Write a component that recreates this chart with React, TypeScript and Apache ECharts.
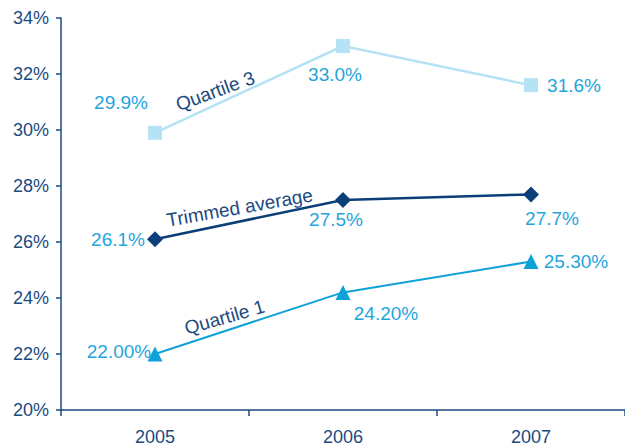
import React, { useEffect, useRef } from "react";
import * as echarts from "echarts";

const categories = ["2005", "2006", "2007"];
const quartile3 = [29.9, 33.0, 31.6];
const trimmedAverage = [26.1, 27.5, 27.7];
const quartile1 = [22.0, 24.2, 25.3];
const yTicks = { min: 20, max: 34, interval: 2 };

const AXIS = "#1b4a7f";
const LABEL = "#1fa5dc";
const C_Q3 = "#b5e2f4";
const C_TA = "#0b3f78";
const C_Q1 = "#10a1d8";
const FONT = "Liberation Sans, Arial, sans-serif";

const labelOffsets: Record<string, number[][]> = {
  q3: [[-34, -30], [-8, 28], [43, 0]],
  ta: [[-37, 0], [-7, 19], [21, 24]],
  q1: [[-36, -3], [43, 21], [45, 0]],
};

function mkData(vals: number[], key: string, digits: number) {
  return vals.map((v, i) => ({
    value: v,
    label: {
      show: true,
      position: "inside",
      offset: labelOffsets[key][i],
      formatter: () => v.toFixed(digits) + "%",
      color: LABEL,
      fontSize: 19,
      fontFamily: FONT,
      align: "center",
      verticalAlign: "middle",
    },
  }));
}

export default function App() {
  const ref = useRef<HTMLDivElement>(null);
  useEffect(() => {
    if (!ref.current) return;
    const chart = echarts.init(ref.current, undefined, { renderer: "svg" });
    chart.setOption({
      animation: false,
      grid: { left: 61, right: -2, top: 18, bottom: 37 },
      xAxis: {
        type: "category",
        data: categories,
        boundaryGap: true,
        axisLine: { lineStyle: { color: AXIS, width: 1.5 } },
        axisTick: { show: true, length: 6, lineStyle: { color: AXIS, width: 1.5 } },
        axisLabel: { color: AXIS, fontSize: 18, fontFamily: FONT, margin: 18 },
        splitLine: { show: false },
      },
      yAxis: {
        type: "value",
        min: yTicks.min,
        max: yTicks.max,
        interval: yTicks.interval,
        axisLine: { show: true, lineStyle: { color: AXIS, width: 1.5 } },
        axisTick: { show: true, length: 5, lineStyle: { color: AXIS, width: 1.5 } },
        axisLabel: { color: AXIS, fontSize: 18, fontFamily: FONT, margin: 12, formatter: "{value}%" },
        splitLine: { show: false },
      },
      series: [
        {
          name: "Quartile 3",
          type: "line",
          data: mkData(quartile3, "q3", 1),
          symbol: "rect",
          symbolSize: 14,
          lineStyle: { color: C_Q3, width: 2.5 },
          itemStyle: { color: C_Q3 },
        },
        {
          name: "Trimmed average",
          type: "line",
          data: mkData(trimmedAverage, "ta", 1),
          symbol: "diamond",
          symbolSize: [16, 16],
          lineStyle: { color: C_TA, width: 2.5 },
          itemStyle: { color: C_TA },
        },
        {
          name: "Quartile 1",
          type: "line",
          data: mkData(quartile1, "q1", 2),
          symbol: "triangle",
          symbolSize: 15,
          lineStyle: { color: C_Q1, width: 2 },
          itemStyle: { color: C_Q1 },
        },
      ],
    });

    const names = [
      { text: "Quartile 3", vals: quartile3, t: 0.32, rot: 20 },
      { text: "Trimmed average", vals: trimmedAverage, t: 0.45, rot: 10 },
      { text: "Quartile 1", vals: quartile1, t: 0.37, rot: 16 },
    ];
    const elements = names.map((n) => {
      const p0 = chart.convertToPixel({ xAxisIndex: 0, yAxisIndex: 0 }, [0, n.vals[0]]) as number[];
      const p1 = chart.convertToPixel({ xAxisIndex: 0, yAxisIndex: 0 }, [1, n.vals[1]]) as number[];
      const x = p0[0] + (p1[0] - p0[0]) * n.t;
      const y = p0[1] + (p1[1] - p0[1]) * n.t - 14;
      return {
        type: "text",
        x,
        y,
        rotation: (n.rot * Math.PI) / 180,
        style: {
          text: n.text,
          fill: AXIS,
          font: `19px ${FONT}`,
          align: "center",
          verticalAlign: "middle",
        },
      };
    });
    chart.setOption({ graphic: { elements } });

    return () => chart.dispose();
  }, []);
  return (
    <div
      ref={ref}
      style={{ position: "fixed", left: 0, top: 0, width: 625, height: 447, background: "#fff" }}
    />
  );
}
